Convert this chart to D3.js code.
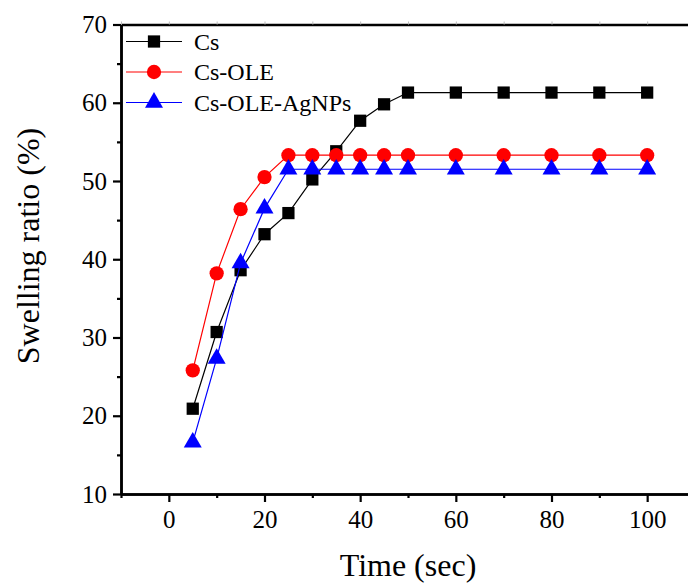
<!DOCTYPE html>
<html>
<head>
<meta charset="utf-8">
<script src="https://cdn.jsdelivr.net/npm/d3@7"></script>
<style>
  html, body { margin: 0; padding: 0; background: #fff; }
  svg { display: block; }
  text { font-family: "Liberation Serif", "Times New Roman", serif; fill: #000; }
</style>
</head>
<body>
<svg id="chart" width="688" height="585"></svg>
<script>
// Swelling ratio over time for three films
const time = [5, 10, 15, 20, 25, 30, 35, 40, 45, 50, 60, 70, 80, 90, 100];
const cs = [20.9, 30.7, 38.6, 43.2, 45.9, 50.2, 53.8, 57.7, 59.8, 61.3, 61.3, 61.3, 61.3, 61.3, 61.3];
const csOle = [25.8, 38.2, 46.4, 50.5, 53.3, 53.3, 53.3, 53.3, 53.3, 53.3, 53.3, 53.3, 53.3, 53.3, 53.3];
const csOleAg = [16.6, 27.3, 39.5, 46.5, 51.5, 51.5, 51.5, 51.5, 51.5, 51.5, 51.5, 51.5, 51.5, 51.5, 51.5];
const seriesNames = ["Cs", "Cs-OLE", "Cs-OLE-AgNPs"];
const xTicks = [0, 20, 40, 60, 80, 100];
const yTicks = [10, 20, 30, 40, 50, 60, 70];

const series = [
  { name: seriesNames[0], values: cs, color: "#000000", symbol: d3.symbolSquare, size: 150 },
  { name: seriesNames[1], values: csOle, color: "#ff0000", symbol: d3.symbolCircle, size: 160 },
  { name: seriesNames[2], values: csOleAg, color: "#0000ff", symbol: d3.symbolTriangle, size: 140 }
];

const svg = d3.select("#chart");
const plotLeft = 121, plotRight = 695, plotTop = 24.5, plotBottom = 494;

const x = d3.scaleLinear().domain([-10, 110]).range([plotLeft, plotRight]);
const y = d3.scaleLinear().domain([10, 70]).range([plotBottom, plotTop]);

const minorX = d3.range(-10, 111, 10).filter(v => v % 20 !== 0);
const minorY = d3.range(15, 70, 10);

// bottom axis
const gx = svg.append("g").attr("transform", `translate(0,${plotBottom})`);
gx.call(d3.axisBottom(x).tickValues(xTicks).tickSize(8).tickSizeOuter(0).tickPadding(8));
gx.append("g").call(d3.axisBottom(x).tickValues(minorX).tickSize(4).tickFormat("").tickSizeOuter(0));

// left axis
const gy = svg.append("g").attr("transform", `translate(${plotLeft},0)`);
gy.call(d3.axisLeft(y).tickValues(yTicks).tickSize(8).tickSizeOuter(0).tickPadding(6));
gy.append("g").call(d3.axisLeft(y).tickValues(minorY).tickSize(4).tickFormat("").tickSizeOuter(0));

// top frame line with faint ticks
const gt = svg.append("g").attr("transform", `translate(0,${plotTop})`);
gt.call(d3.axisTop(x).tickValues(d3.range(-10, 111, 10)).tickSize(3).tickFormat("").tickSizeOuter(0));
gt.selectAll(".tick line").attr("stroke", "#bbb").attr("stroke-width", 1);

// right frame line
svg.append("line").attr("x1", plotRight).attr("x2", plotRight).attr("y1", plotTop).attr("y2", plotBottom)
  .attr("stroke", "#000").attr("stroke-width", 2.5);

svg.selectAll(".domain").attr("stroke", "#000").attr("stroke-width", 2.5);
[gx, gy].forEach(g => g.selectAll(".tick line").attr("stroke", "#000").attr("stroke-width", 2.2));
svg.selectAll(".tick text").attr("font-family", null)
  .style("font-size", "25px").style("font-family", "'Liberation Serif', serif");
svg.selectAll("g").attr("font-family", null);

// series
const line = d3.line().x((d, i) => x(time[i])).y(d => y(d));
series.forEach(s => {
  svg.append("path").datum(s.values)
    .attr("d", line).attr("fill", "none")
    .attr("stroke", s.color).attr("stroke-width", 1.2);
  svg.append("g").selectAll("path").data(s.values).join("path")
    .attr("transform", (d, i) => `translate(${x(time[i])},${y(d)})`)
    .attr("d", d3.symbol().type(s.symbol).size(s.size))
    .attr("fill", s.color);
});

// legend
const legend = svg.append("g");
series.forEach((s, i) => {
  const cy = 41.5 + i * 30.5;
  legend.append("line").attr("x1", 126).attr("x2", 182).attr("y1", cy).attr("y2", cy)
    .attr("stroke", s.color).attr("stroke-width", 1.2);
  legend.append("path").attr("transform", `translate(154,${cy})`)
    .attr("d", d3.symbol().type(s.symbol).size(s.size)).attr("fill", s.color);
  legend.append("text").attr("x", 194).attr("y", cy + 8)
    .style("font-size", "24px").text(s.name);
});

// axis titles
svg.append("text").attr("x", 408).attr("y", 576)
  .attr("text-anchor", "middle").style("font-size", "32px").text("Time (sec)");
svg.append("text").attr("transform", "translate(39,246) rotate(-90)")
  .attr("text-anchor", "middle").style("font-size", "32px").text("Swelling ratio (%)");
</script>
</body>
</html>
